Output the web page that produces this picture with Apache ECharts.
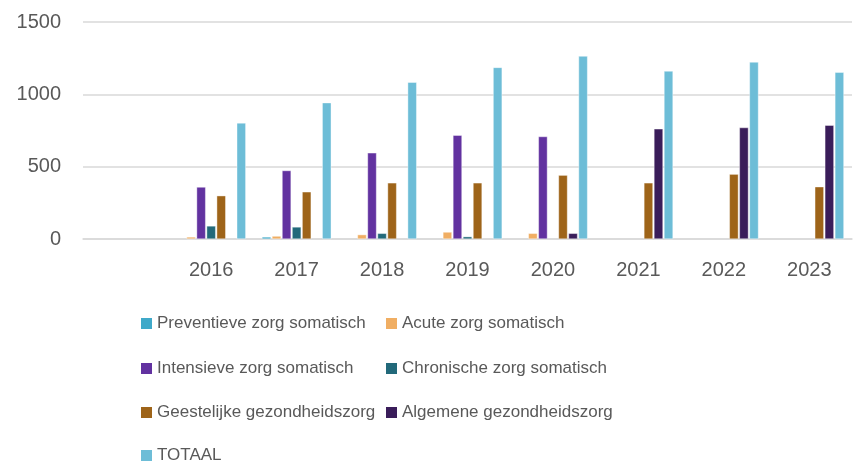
<!DOCTYPE html>
<html lang="nl">
<head>
  <meta charset="UTF-8" />
  <title>Zorg per jaar</title>
  <script src="https://cdn.jsdelivr.net/npm/echarts@6/dist/echarts.min.js"></script>
  <style>
    html, body { margin: 0; padding: 0; background: #fff; }
  </style>
</head>
<body>
  <div id="main" style="width: 854px; height: 463px;"></div>
  <script type="text/javascript">
    // eerste categorie is leeg, zoals in het origineel
    const years = ['', '2016', '2017', '2018', '2019', '2020', '2021', '2022', '2023']

    const preventief = [null, null, 14, null, null, null, null, null, null]
    const acuut = [null, 14, 20, 30, 48, 39, null, null, null]
    const intensief = [null, 359, 473, 595, 717, 708, null, null, null]
    const chronisch = [null, 90, 83, 39, 16, null, null, null, null]
    const ggz = [null, 299, 326, 388, 388, 441, 388, 448, 361]
    const algemeen = [null, null, null, null, null, 39, 761, 770, 786]
    const totaal = [null, 802, 942, 1083, 1186, 1264, 1161, 1223, 1152]

    const yTicks = { min: 0, max: 1500, interval: 500 }

    const names = [
      'Preventieve zorg somatisch', 'Acute zorg somatisch',
      'Intensieve zorg somatisch', 'Chronische zorg somatisch',
      'Geestelijke gezondheidszorg', 'Algemene gezondheidszorg',
      'TOTAAL'
    ]
    const values = [preventief, acuut, intensief, chronisch, ggz, algemeen, totaal]
    const colors = ['#3FA9C9', '#F0AE63', '#6232A0', '#22697A', '#9E6419', '#3A1D5A', '#6DBDD7']

    const textColor = '#595959'
    const fontFamily = 'Liberation Sans'

    var myChart = echarts.init(document.getElementById('main'))

    const series = names.map((name, i) => ({
      name,
      type: 'bar',
      data: values[i],
      barGap: '12%',
      barCategoryGap: '19%',
      itemStyle: { color: colors[i], borderColor: '#fff', borderWidth: 0.4 }
    }))

    // legenda in twee kolommen, één legend per item
    const colLeft = [141, 386]
    const rowTop = [315, 360, 404, 447]
    const legends = names.map((name, i) => ({
      left: colLeft[i % 2],
      top: rowTop[Math.floor(i / 2)],
      padding: 0,
      icon: 'rect',
      itemWidth: 11,
      itemHeight: 11,
      itemGap: 5,
      itemStyle: { borderWidth: 0 },
      data: [name],
      textStyle: { color: textColor, fontSize: 17, fontFamily }
    }))

    var option = {
      animation: false,
      grid: { left: 83, right: 2, top: 22, bottom: 224 },
      xAxis: {
        type: 'category',
        data: years,
        axisLine: { lineStyle: { color: '#d9d9d9', width: 1.5 } },
        axisTick: { show: false },
        axisLabel: { color: textColor, fontSize: 20, fontFamily, margin: 21 }
      },
      yAxis: {
        type: 'value',
        min: yTicks.min,
        max: yTicks.max,
        interval: yTicks.interval,
        axisLine: { show: false },
        axisTick: { show: false },
        splitLine: { lineStyle: { color: '#d9d9d9', width: 1.5 } },
        axisLabel: { color: textColor, fontSize: 20, fontFamily, margin: 22, formatter: v => String(v) }
      },
      legend: legends,
      series
    }

    myChart.setOption(option)
  </script>
</body>
</html>
